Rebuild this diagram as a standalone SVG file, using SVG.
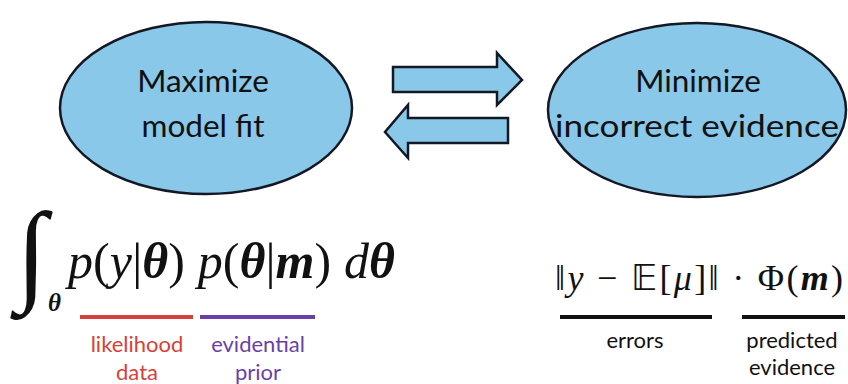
<svg xmlns="http://www.w3.org/2000/svg" width="848" height="384" viewBox="0 0 848 384">
<style>
.node{fill:#89c8e8;stroke:#141824;stroke-width:2.5}
.lbl{font-family:Lato,"Noto Sans",sans-serif;font-size:31.5px;fill:#111;text-anchor:middle}
.arr{fill:#89c8e8;stroke:#141824;stroke-width:2.5;stroke-linejoin:miter}
.math{font-family:"Liberation Serif","DejaVu Serif",serif;fill:#111}
.it{font-style:italic}
.bi{font-style:italic;font-weight:bold}
.cap{font-family:Lato,"Noto Sans",sans-serif;font-size:22px;text-anchor:middle}
</style>
<rect width="848" height="384" fill="#ffffff"/>
<g id="maximize">
<ellipse class="node" cx="206" cy="108" rx="146" ry="86"/>
<text class="lbl" x="203" y="92">Maximize</text>
<text class="lbl" x="203" y="137">model fit</text>
</g>
<g id="minimize">
<ellipse class="node" cx="697" cy="110" rx="149" ry="87"/>
<text class="lbl" x="698" y="92">Minimize</text>
<text class="lbl" x="697" y="137" textLength="284" lengthAdjust="spacingAndGlyphs">incorrect evidence</text>
</g>
<g id="connectors">
<polygon class="arr" points="393,67 497,67 497,53 522,80 497,105 497,92 393,92"/>
<polygon class="arr" points="508,118 408,118 408,105 385,132 408,158 408,143 508,143"/>
</g>
<g id="formula-left">
<text class="math it" x="16" y="290" style="font-size:112px">∫</text>
<text class="math bi" x="48" y="311" style="font-size:25px">θ</text>
<text class="math" x="68" y="278" style="font-size:50px" textLength="327"><tspan class="it">p</tspan>(<tspan class="it">y</tspan>|<tspan class="bi">θ</tspan>) <tspan class="it">p</tspan>(<tspan class="bi">θ</tspan>|<tspan class="bi">m</tspan>) <tspan class="it">d</tspan><tspan class="bi">θ</tspan></text>
<line x1="80" y1="317" x2="193" y2="317" stroke="#d8403a" stroke-width="4"/>
<line x1="200" y1="317" x2="315" y2="317" stroke="#6a3fa8" stroke-width="4"/>
<text class="cap" x="137" y="352" fill="#d8403a">likelihood</text>
<text class="cap" x="137" y="380" fill="#d8403a">data</text>
<text class="cap" x="258" y="352" fill="#6a3fa8">evidential</text>
<text class="cap" x="258" y="380" fill="#6a3fa8">prior</text>
</g>
<g id="formula-right">
<text class="math" x="555" y="290" style="font-size:36px" textLength="288">‖<tspan class="it">y</tspan> − <tspan style="font-family:'DejaVu Sans',sans-serif">𝔼</tspan>[<tspan class="it">μ</tspan>]‖ · Φ(<tspan class="bi">m</tspan>)</text>
<line x1="560" y1="317" x2="712" y2="317" stroke="#111" stroke-width="4"/>
<line x1="742" y1="317" x2="845" y2="317" stroke="#111" stroke-width="4"/>
<text class="cap" x="635" y="348" fill="#111">errors</text>
<text class="cap" x="792" y="348" fill="#111">predicted</text>
<text class="cap" x="792" y="375" fill="#111">evidence</text>
</g>
</svg>
